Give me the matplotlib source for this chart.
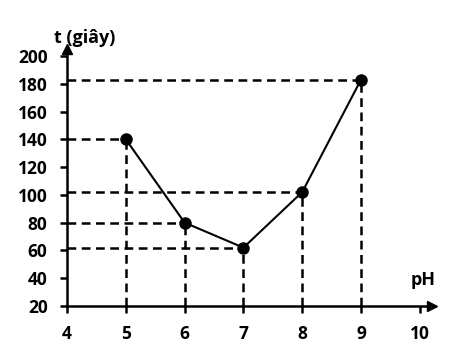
import matplotlib
matplotlib.use("Agg")
import matplotlib.pyplot as plt

ph = [5, 6, 7, 8, 9]
t_values = [140, 80, 62, 102, 183]
x_ticks = [4, 5, 6, 7, 8, 9, 10]
y_ticks = [20, 40, 60, 80, 100, 120, 140, 160, 180, 200]

plt.rcParams['font.family'] = ['Open Sans', 'DejaVu Sans']

fig = plt.figure(figsize=(4.57, 3.62), dpi=100)
ax = fig.add_axes([67/457, 1-306/362, 364.6/457, 257/362])
ax.set_xlim(4, 10.2)
ax.set_ylim(20, 205)

for s in ['top', 'right']:
    ax.spines[s].set_visible(False)
for s in ['left', 'bottom']:
    ax.spines[s].set_linewidth(1.8)

# dashed guides
for x, y in zip(ph, t_values):
    ax.plot([4, x], [y, y], ls=(0, (3.5, 2.2)), color='black', lw=1.8, zorder=1)
    ax.plot([x, x], [20, y], ls=(0, (3.5, 2.2)), color='black', lw=1.8, zorder=1)

ax.plot(ph, t_values, color='black', lw=1.5, marker='o', markersize=8, zorder=3)

# arrows
ax.plot(10.2, 20, marker='>', color='black', markersize=7, clip_on=False)
ax.plot(4, 205, marker='^', color='black', markersize=7, clip_on=False)

ax.set_xticks(x_ticks)
ax.set_yticks(y_ticks)
ax.set_xticklabels([str(v) for v in x_ticks], fontsize=12.5, fontweight='bold')
ax.set_yticklabels([str(v) for v in y_ticks], fontsize=12.5, fontweight='bold')
ax.tick_params(axis='both', direction='out', length=5, width=1.8, pad=9)

ax.text(3.78, 206.5, 't (giây)', fontsize=13, fontweight='bold', ha='left', va='bottom', clip_on=False)
ax.text(10.05, 32, 'pH', fontsize=13, fontweight='bold', ha='center', va='bottom', clip_on=False)

fig.savefig('out.png', dpi=100)
